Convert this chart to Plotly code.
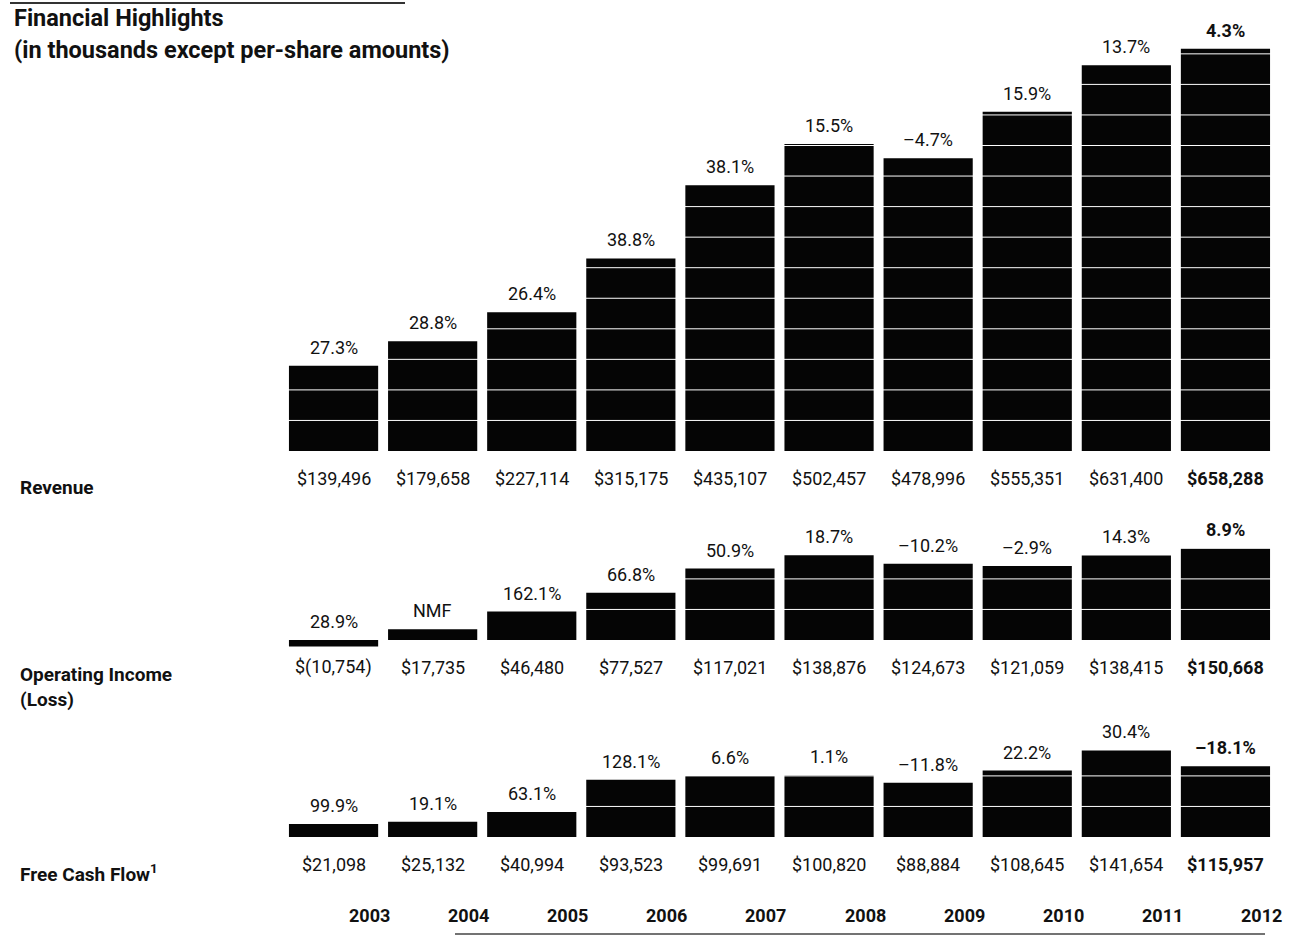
import plotly.graph_objects as go

# Fiscal years and financial series (in thousands of dollars)
years = ["2003", "2004", "2005", "2006", "2007", "2008", "2009", "2010", "2011", "2012"]

revenue = [139496, 179658, 227114, 315175, 435107, 502457, 478996, 555351, 631400, 658288]
revenue_growth = ["27.3%", "28.8%", "26.4%", "38.8%", "38.1%", "15.5%", "\u20134.7%", "15.9%", "13.7%", "4.3%"]

op_income = [-10754, 17735, 46480, 77527, 117021, 138876, 124673, 121059, 138415, 150668]
op_income_growth = ["28.9%", "NMF", "162.1%", "66.8%", "50.9%", "18.7%", "\u201310.2%", "\u20132.9%", "14.3%", "8.9%"]

free_cash_flow = [21098, 25132, 40994, 93523, 99691, 100820, 88884, 108645, 141654, 115957]
fcf_growth = ["99.9%", "19.1%", "63.1%", "128.1%", "6.6%", "1.1%", "\u201311.8%", "22.2%", "30.4%", "\u201318.1%"]

W, H = 1294, 937
FONT = "Roboto, Liberation Sans, Arial, sans-serif"
PX_PER_UNIT = 0.000611  # vertical pixels per thousand dollars, shared by all panels


def money(v):
    return f"${v:,}" if v >= 0 else f"$({-v:,})"


def py(px):
    return 1 - px / H


# panel: (values, growth labels, axis id, baseline px, top px, bottom px)
panels = [
    (revenue, revenue_growth, "y", 451, 30, 470),
    (op_income, op_income_growth, "y2", 640, 520, 662),
    (free_cash_flow, fcf_growth, "y3", 837, 720, 852),
]

fig = go.Figure()
annotations = []
shapes = []
layout_axes = {}

for idx, (vals, growth, yid, base, top, bottom) in enumerate(panels):
    fig.add_trace(go.Bar(
        x=list(range(len(years))), y=vals, yaxis=yid, xaxis="x",
        marker=dict(color="#050505", line=dict(width=0)),
        width=0.9, hoverinfo="skip", showlegend=False,
    ))
    rmax = (base - top) / PX_PER_UNIT
    rmin = -(bottom - base) / PX_PER_UNIT
    axname = "yaxis" if yid == "y" else "yaxis" + yid[1:]
    layout_axes[axname] = dict(
        domain=[py(bottom), py(top)], range=[rmin, rmax],
        visible=False, showgrid=False, zeroline=False, fixedrange=True,
    )
    # thin white rules every 50,000 across the bars
    step = 50000
    k = step
    while k < max(vals):
        shapes.append(dict(
            type="line", xref="x", yref=yid, x0=-0.5, x1=9.5, y0=k, y1=k,
            line=dict(color="white", width=1), layer="above",
        ))
        k += step
    last = len(vals) - 1
    for i, v in enumerate(vals):
        bold = i == last
        annotations.append(dict(
            x=i, y=max(v, 0), xref="x", yref=yid,
            text=f"<b>{growth[i]}</b>" if bold else growth[i],
            showarrow=False, yanchor="bottom", yshift=6,
            font=dict(family=FONT, size=18, color="#111"),
        ))
        annotations.append(dict(
            x=i, y=0, xref="x", yref=yid,
            text=f"<b>{money(v)}</b>" if bold else money(v),
            showarrow=False, yanchor="middle", yshift=-27,
            font=dict(family=FONT, size=18, color="#111"),
        ))

# Year labels along the bottom
for i, yr in enumerate(years):
    annotations.append(dict(
        x=i, y=py(915), xref="x", yref="paper", text=f"<b>{yr}</b>",
        showarrow=False, xshift=36, yanchor="middle",
        font=dict(family=FONT, size=18, color="#111"),
    ))

# Row labels on the left
row_labels = [
    ("<b>Revenue</b>", 487),
    ("<b>Operating Income<br>(Loss)</b>", 687),
    ("<b>Free Cash Flow<sup>1</sup></b>", 873),
]
for txt, ypx in row_labels:
    annotations.append(dict(
        x=18 / W, y=py(ypx), xref="paper", yref="paper", text=txt,
        showarrow=False, xanchor="left", yanchor="middle", align="left",
        font=dict(family=FONT, size=19, color="#111"),
    ))

# Title block
annotations.append(dict(
    x=12 / W, y=py(18), xref="paper", yref="paper", text="<b>Financial Highlights</b>",
    showarrow=False, xanchor="left", yanchor="middle",
    font=dict(family=FONT, size=23.5, color="#111"),
))
annotations.append(dict(
    x=12 / W, y=py(50), xref="paper", yref="paper",
    text="<b>(in thousands except per-share amounts)</b>",
    showarrow=False, xanchor="left", yanchor="middle",
    font=dict(family=FONT, size=23.5, color="#111"),
))

# Decorative rules at top and bottom
shapes.append(dict(type="line", xref="paper", yref="paper",
                   x0=10 / W, x1=405 / W, y0=py(3), y1=py(3),
                   line=dict(color="#333", width=2)))
shapes.append(dict(type="line", xref="paper", yref="paper",
                   x0=455 / W, x1=1265 / W, y0=py(934), y1=py(934),
                   line=dict(color="#444", width=1.5)))

fig.update_layout(
    width=W, height=H,
    margin=dict(l=0, r=0, t=0, b=0),
    paper_bgcolor="white", plot_bgcolor="white",
    bargap=0.1,
    xaxis=dict(domain=[284 / W, 1275 / W], range=[-0.5, 9.5], visible=False,
               showgrid=False, zeroline=False, fixedrange=True),
    annotations=annotations,
    shapes=shapes,
    **layout_axes,
)

fig.write_html("out.html", config={"displayModeBar": False})
